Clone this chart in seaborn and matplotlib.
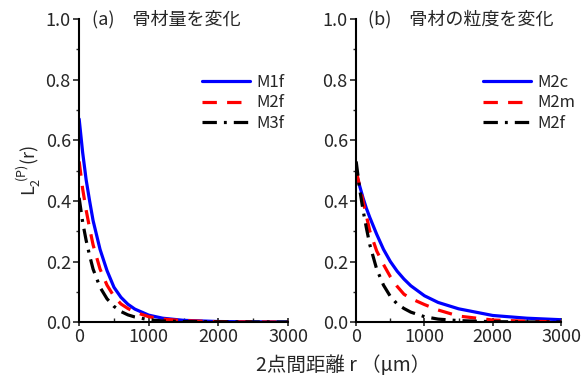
import numpy as np
import pandas as pd
import matplotlib
matplotlib.use("Agg")
import matplotlib.pyplot as plt
import seaborn as sns
from matplotlib.ticker import MultipleLocator

sns.set_theme(style="ticks")
plt.rcParams['font.family'] = ['Noto Sans CJK JP', 'DejaVu Sans']
plt.rcParams['mathtext.fontset'] = 'custom'
plt.rcParams['mathtext.rm'] = 'Noto Sans CJK JP'

# distance r (um)
r = [0, 50, 100, 150, 200, 300, 400, 500, 600, 700, 800, 1000, 1200, 1500, 2000, 2500, 3000]

M1f = [0.67, 0.56, 0.47, 0.40, 0.335, 0.24, 0.17, 0.115, 0.082, 0.059, 0.043, 0.023, 0.013, 0.006, 0.002, 0.001, 0.0005]
M2f = [0.53, 0.44, 0.37, 0.31, 0.255, 0.175, 0.122, 0.085, 0.060, 0.045, 0.033, 0.018, 0.010, 0.005, 0.0015, 0.0007, 0.0003]
M3f = [0.41, 0.33, 0.27, 0.22, 0.175, 0.115, 0.077, 0.052, 0.035, 0.024, 0.017, 0.008, 0.004, 0.002, 0.0008, 0.0004, 0.0003]
M2c = [0.49, 0.45, 0.41, 0.375, 0.345, 0.29, 0.24, 0.20, 0.168, 0.142, 0.120, 0.087, 0.065, 0.044, 0.022, 0.013, 0.008]
M2m = [0.50, 0.45, 0.40, 0.35, 0.30, 0.235, 0.19, 0.15, 0.118, 0.092, 0.078, 0.058, 0.040, 0.020, 0.007, 0.003, 0.001]

titles = ["(a)　骨材量を変化", "(b)　骨材の粒度を変化"]
panels = [[("M1f", M1f), ("M2f", M2f), ("M3f", M3f)],
          [("M2c", M2c), ("M2m", M2m), ("M2f", M2f)]]
xticks = [0, 1000, 2000, 3000]
yticks = [0.0, 0.2, 0.4, 0.6, 0.8, 1.0]

colors = ["#0000ff", "#ff0000", "#000000"]
dashes = [(None, None), (4.5, 3.2), (4.5, 2.2, 0.9, 2.2)]
legend_x = [0.555, 0.585]

fig = plt.figure(figsize=(5.82, 3.79), dpi=100)
axes = [fig.add_axes([0.136, 0.150, 0.359, 0.800]),
        fig.add_axes([0.612, 0.150, 0.352, 0.800])]

for k, (ax, series, title) in enumerate(zip(axes, panels, titles)):
    for i, (name, vals) in enumerate(series):
        df = pd.DataFrame({"r": r, "v": vals})
        sns.lineplot(data=df, x="r", y="v", ax=ax, color=colors[i],
                     linewidth=2.3, label=name)
        ln = ax.get_lines()[-1]
        if dashes[i][0] is not None:
            ln.set_dashes(dashes[i])
    ax.set_xlim(0, 3000)
    ax.set_ylim(0, 1.0)
    ax.set_xticks(xticks)
    ax.set_yticks(yticks)
    ax.set_xticklabels([str(t) for t in xticks])
    ax.set_yticklabels([f"{t:.1f}" for t in yticks])
    ax.xaxis.set_minor_locator(MultipleLocator(500))
    ax.yaxis.set_minor_locator(MultipleLocator(0.1))
    ax.tick_params(axis='x', which='major', direction='inout', length=6, width=1.2, labelsize=13, pad=1)
    ax.tick_params(axis='x', which='minor', direction='in', length=3, width=1.0)
    ax.tick_params(axis='y', which='major', direction='out', length=4, width=1.2, labelsize=13, pad=2)
    ax.tick_params(axis='y', which='minor', direction='out', length=2.5, width=1.0)
    for s in ['top', 'right']:
        ax.spines[s].set_visible(False)
    for s in ['left', 'bottom']:
        ax.spines[s].set_linewidth(1.5)
        ax.spines[s].set_color('black')
    ax.set_xlabel("")
    ax.set_ylabel("")
    ax.text(0.06, 1.0, title, transform=ax.transAxes, fontsize=13,
            va='center', ha='left')
    ax.legend(loc='upper left', bbox_to_anchor=(legend_x[k], 0.84), frameon=False,
              fontsize=12, handlelength=2.9, handletextpad=0.4,
              labelspacing=0.2, borderaxespad=0)

axes[0].set_ylabel(r"L$_2^{\ (\mathrm{P})}$(r)", fontsize=13, labelpad=2)
fig.text(0.59, 0.035, "2点間距離 r （μm）", ha='center', va='center', fontsize=14)

fig.savefig("out.png", dpi=100)
